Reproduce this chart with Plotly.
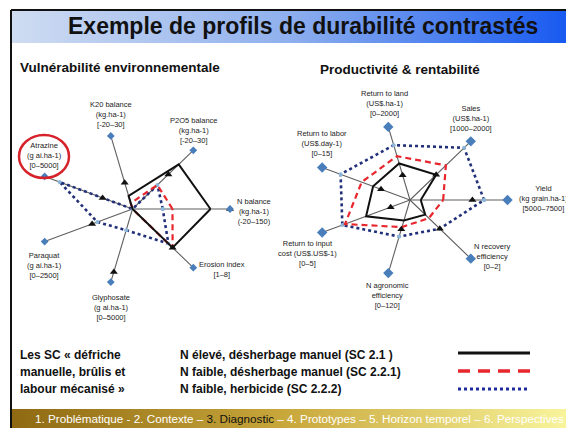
import numpy as np
import plotly.graph_objects as go

# ---- left radar: environmental vulnerability (axes counter-clockwise from 3 o'clock)
env_labels = [
    "N balance<br>(kg.ha-1)<br>(-20–150)",
    "P2O5 balance<br>(kg.ha-1)<br>[-20–30]",
    "K20 balance<br>(kg.ha-1)<br>[-20–30]",
    "Atrazine<br>(g ai.ha-1)<br>[0–5000]",
    "Paraquat<br>(g ai.ha-1)<br>[0–2500]",
    "Glyphosate<br>(g ai.ha-1)<br>[0–5000]",
    "Erosion index<br>[1–8]",
]
env_sc21 = [0.80, 0.76, 0.18, 0.0, 0.0, 0.0, 0.66]
env_sc221 = [0.41, 0.41, 0.08, 0.0, 0.0, 0.0, 0.66]
env_sc222 = [0.31, 0.41, 0.0, 0.83, 0.40, 0.29, 0.59]
env_ref = [1.0, 0.59, 0.36, 0.34, 0.46, 0.86, 0.66]

# ---- right radar: productivity & profitability
prod_labels = [
    "Yield<br>(kg grain.ha-1)<br>[5000–7500]",
    "Sales<br>(US$.ha-1)<br>[1000–2000]",
    "Return to land<br>(US$.ha-1)<br>[0–2000]",
    "Return to labor<br>(US$.day-1)<br>[0–15]",
    "Return to input<br>cost (US$.US$-1)<br>[0–5]",
    "N agronomic<br>efficiency<br>[0–120]",
    "N recovery<br>efficiency<br>[0–2]",
]
prod_sc21 = [0.11, 0.43, 0.50, 0.42, 0.50, 0.28, 0.25]
prod_sc221 = [0.34, 0.59, 0.60, 0.55, 0.74, 0.37, 0.31]
prod_sc222 = [0.76, 0.89, 0.75, 0.79, 0.77, 0.50, 0.49]
prod_ref = [0.64, 0.43, 0.34, 0.33, 0.22, 0.40, 0.49]

legend_names = [
    "N élevé, désherbage manuel (SC 2.1 )",
    "N faible, désherbage manuel (SC 2.2.1)",
    "N faible, herbicide (SC 2.2.2)",
]
group_lines = ["Les SC « défriche", "manuelle, brûlis et", "labour mécanisé »"]
title = "Exemple de profils de durabilité contrastés"
footer = ("1. Problématique - 2. Contexte – <span style='color:#111111'>3. Diagnostic</span>"
          " – 4. Prototypes – 5. Horizon temporel – 6. Perspectives")

# label offsets (px) from each axis end
env_shift = [(24, -2), (1, 20), (0, 21), (0, 21), (0, -24), (0, -25), (29, -2)]
prod_shift = [(36, 2), (0, 23), (-4, 23), (0, 24), (-15, -21), (-1, -22), (22, 2)]

W, H = 566, 428
FONT = "Liberation Sans, Arial, sans-serif"
RED_DASH = "6px,4px"


def project(values, close=True):
    v = np.asarray(values, dtype=float)
    ang = 2 * np.pi * np.arange(len(v)) / len(v)
    x, y = v * np.cos(ang), v * np.sin(ang)
    if close:
        x, y = np.append(x, x[0]), np.append(y, y[0])
    return x, y


fig = go.Figure()

# slide bands (pixel-space overlay axis)
for (y0, y1), scale in [((10, 43), [[0, "#cfdcf1"], [0.5, "#8fb0ee"], [1, "#185af0"]]),
                        ((409, 428), [[0, "#8e6912"], [0.5, "#c9a83c"], [1, "#f8f49c"]])]:
    fig.add_trace(go.Scatter(x=[11, W, W, 11, 11], y=[y0, y0, y1, y1, y0], mode="lines", fill="toself",
                             line=dict(width=0), fillgradient=dict(type="horizontal", colorscale=scale),
                             xaxis="x3", yaxis="y3", hoverinfo="skip"))


def add_radar(sc21, sc221, sc222, ref, labels, shifts, xa, ya, dsize):
    n = len(labels)
    ex, ey = project(np.ones(n), close=False)
    for i in range(n):
        fig.add_trace(go.Scatter(x=[0, ex[i]], y=[0, ey[i]], mode="lines",
                                 line=dict(color="#5f5f5f", width=1.1), xaxis=xa, yaxis=ya))
    x, y = project(sc222)
    fig.add_trace(go.Scatter(x=x, y=y, mode="lines+markers", line=dict(color="#22307a", width=2.6, dash="dot"),
                             marker=dict(color="#8db6d8", size=4), xaxis=xa, yaxis=ya))
    x, y = project(sc221)
    fig.add_trace(go.Scatter(x=x, y=y, mode="lines", line=dict(color="#e8262d", width=2.2, dash=RED_DASH),
                             xaxis=xa, yaxis=ya))
    x, y = project(sc21)
    fig.add_trace(go.Scatter(x=x, y=y, mode="lines", line=dict(color="#111111", width=2.0),
                             xaxis=xa, yaxis=ya))
    x, y = project(ref, close=False)
    fig.add_trace(go.Scatter(x=x, y=y, mode="markers", marker=dict(symbol="triangle-up", color="#111111", size=7),
                             xaxis=xa, yaxis=ya))
    fig.add_trace(go.Scatter(x=ex, y=ey, mode="markers",
                             marker=dict(symbol="diamond", color="#4a7ebb", size=dsize), xaxis=xa, yaxis=ya))
    for i, lab in enumerate(labels):
        fig.add_annotation(x=ex[i], y=ey[i], xref=xa, yref=ya, text=lab, showarrow=False,
                           xshift=shifts[i][0], yshift=shifts[i][1], align="center",
                           font=dict(family=FONT, size=7.5, color="#1c1c1c"))


add_radar(env_sc21, env_sc221, env_sc222, env_ref, env_labels, env_shift, "x", "y", 6)
add_radar(prod_sc21, prod_sc221, prod_sc222, prod_ref, prod_labels, prod_shift, "x2", "y2", 8)

shapes = [
    dict(type="line", xref="paper", yref="paper", x0=11 / W, x1=1, y0=1 - 10 / H, y1=1 - 10 / H,
         line=dict(color="#111111", width=2)),
    dict(type="line", xref="paper", yref="paper", x0=11 / W, x1=11 / W, y0=0, y1=1 - 10 / H,
         line=dict(color="#111111", width=2)),
    # red circle around Atrazine
    dict(type="circle", xref="paper", yref="paper", x0=19 / W, x1=69 / W, y0=1 - 178 / H, y1=1 - 135 / H,
         line=dict(color="#d6232b", width=2.5)),
]
# legend line samples
for yy, col, dash, wd in [(353, "#111111", "solid", 3), (371, "#e8262d", "12px,8px", 3.5),
                          (389, "#1f2d9a", "dot", 3)]:
    shapes.append(dict(type="line", xref="paper", yref="paper", x0=458 / W, x1=530 / W, y0=1 - yy / H,
                       y1=1 - yy / H, line=dict(color=col, width=wd, dash=dash)))


def note(px, py, text, size, anchor="center", color="#111111"):
    fig.add_annotation(x=px / W, y=1 - py / H, xref="paper", yref="paper", xanchor=anchor, yanchor="middle",
                       text=text, showarrow=False, font=dict(family=FONT, size=size, color=color))


note(303, 26, f"<b>{title}</b>", 23)
note(18, 67, "<b>Vulnérabilité environnementale</b>", 13.5, "left")
note(400, 70, "<b>Productivité & rentabilité</b>", 13.5)
for k, yy in enumerate([355, 372, 389]):
    note(18, yy, f"<b>{group_lines[k]}</b>", 12, "left")
    note(178, yy, f"<b>{legend_names[k]}</b>", 12, "left")
note(299, 418, footer, 11.7, color="#ffffff")

hidden = dict(visible=False, showgrid=False, zeroline=False)
fig.update_layout(
    width=W,
    height=H,
    margin=dict(l=0, r=0, t=0, b=0),
    paper_bgcolor="white",
    plot_bgcolor="rgba(0,0,0,0)",
    showlegend=False,
    shapes=shapes,
    xaxis=dict(domain=[0, 0.5], range=[-132.5 / 97.5, 150.5 / 97.5], **hidden),
    yaxis=dict(domain=[0, 1], range=[-219 / 75, 209 / 75], **hidden),
    xaxis2=dict(domain=[0.5, 1], range=[-127 / 97.5, 156 / 97.5], anchor="y2", **hidden),
    yaxis2=dict(domain=[0, 1], range=[-228 / 75, 200 / 75], anchor="x2", **hidden),
    xaxis3=dict(domain=[0, 1], range=[0, W], anchor="y3", **hidden),
    yaxis3=dict(domain=[0, 1], range=[H, 0], anchor="x3", **hidden),
)

fig.write_html("out.html", config={"displayModeBar": False},
               post_script="document.body.style.margin='0';document.body.style.overflow='hidden';")
